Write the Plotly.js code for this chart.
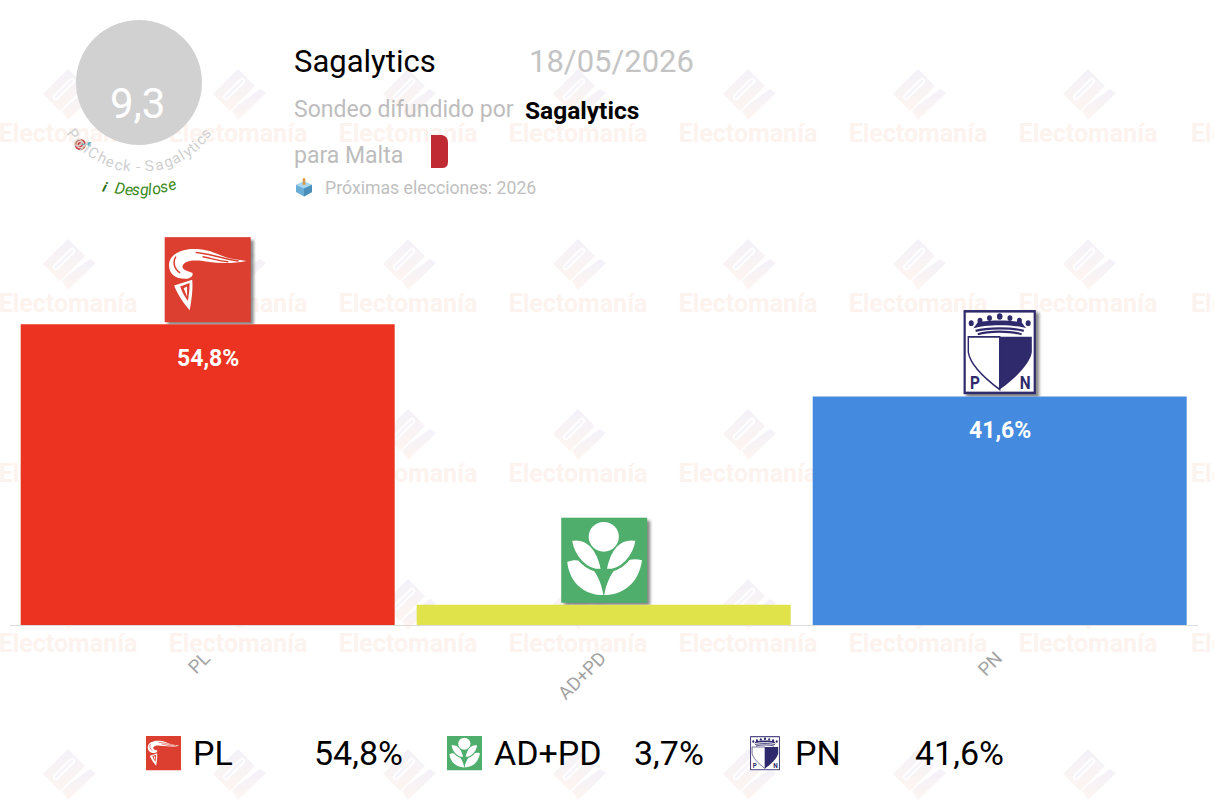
<!DOCTYPE html>
<html>
<head>
<meta charset="utf-8">
<script src="https://cdn.plot.ly/plotly-3.0.1.min.js"></script>
<style>html,body{margin:0;padding:0;background:#fff}#chart{width:1214px;height:804px}</style>
</head>
<body>
<div id="chart"></div>
<script>
// ---- chart data
const categories = ['PL', 'AD+PD', 'PN'];
const values = [54.8, 3.7, 41.6];
const barColors = ['#ec3322', '#e0e34a', '#448ade'];
const pollster = 'Sagalytics';
const pollDate = '18/05/2026';
const score = '9,3';
const arcLabel = 'PollCheck - Sagalytics';
const detailLabel = 'Desglose';
const nextElection = 'Próximas elecciones: 2026';
const watermarkWord = 'Electomanía';
const watermarkEdge = 'Electomanía';
const watermarkTextX = [68, 238, 408, 578, 748, 918, 1088];
const watermarkTextY = [136, 306, 476, 646];
const watermarkEdgeY = [133, 303, 473, 643];
const watermarkIconX = [68, 238, 408, 578, 748, 918, 1088];
const watermarkIconY = [95, 265, 435, 605, 775];
const legendNameX = [192, 493, 794];
const legendValueX = [313, 633, 914];
const legendIconX = [146, 447, 750];

const fmt = v => v.toFixed(1).replace('.', ',') + '%';
const uri = s => 'data:image/svg+xml;charset=utf-8,' + encodeURIComponent(s);

// ---- party logos, each drawn in a 100x100 box
const logoInner = {
  'PL': `<rect width="100" height="100" fill="#dc3e30"/>
    <path fill="#fff" d="M5,33 C5,20 20,14 33,14 C50,13 60,20 72,24 C80,26 88,27 95,28 C80,31 65,31 50,29 C35,26 24,27 21,33 C19,38 26,40 32,42 C34,45 30,49 24,49 C12,49 5,43 5,33Z"/>
    <path fill="#fff" d="M11,57 L32,50 C33,62 31,75 29,86 C22,78 15,68 11,57Z"/>
    <path fill="none" stroke="#dc3e30" stroke-width="1.8" d="M36,18 C52,19 64,25 86,28 M44,23 C55,25 62,28 74,29 M13,23 C9,29 11,38 18,42"/>
    <path fill="#dc3e30" d="M18,58 L29,54 C29,62 28,68 27,75 C23,70 20,64 18,58Z"/>
    <path fill="#fff" d="M22,60 L26,58 L26,70 Z"/>`,
  'AD+PD': `<rect width="100" height="100" fill="#4fae6c"/>
    <path fill="#fff" d="M7,52 C26,44 44,60 49,91 C28,91 10,78 7,52Z"/>
    <path fill="#fff" d="M94,50 C74,44 55,60 50,91 C71,91 90,78 94,50Z"/>
    <path fill="#fff" stroke="#4fae6c" stroke-width="3" d="M11,26 C30,22 43,36 48,63 C28,62 14,46 11,26Z"/>
    <path fill="#fff" stroke="#4fae6c" stroke-width="3" d="M88,26 C68,22 56,36 51,63 C71,62 85,46 88,26Z"/>
    <path fill="#4fae6c" d="M40,40 L59,40 L49.5,62Z"/>
    <path fill="#4fae6c" d="M38,60 L61,60 L50,84Z"/>
    <circle cx="49.5" cy="22.5" r="17.5" fill="#fff"/>`,
  'PN': `<rect x="2" y="2" width="96" height="96" fill="#fff" stroke="#2f2a6b" stroke-width="3"/>
    <path fill="#2f2a6b" d="M50,32 L94,32 L94,50 C92,62 76,78 50,94Z"/>
    <path fill="#fff" stroke="#2f2a6b" stroke-width="2" d="M50,32 L7,32 L7,50 C9,62 25,78 50,94Z"/>
    <path fill="none" stroke="#2f2a6b" stroke-width="2.6" d="M20,29 C35,25 65,25 80,29 M17,25 C32,21 68,21 83,25"/>
    <path fill="#2f2a6b" d="M14,22 C30,17 70,17 86,22 L80,15 C65,12 35,12 20,15Z"/>
    <g fill="#2f2a6b"><circle cx="11" cy="16" r="3.4"/><circle cx="23" cy="13" r="3.4"/><circle cx="36" cy="10" r="3.4"/><circle cx="50" cy="8" r="3.8"/><circle cx="64" cy="10" r="3.4"/><circle cx="77" cy="13" r="3.4"/><circle cx="89" cy="16" r="3.4"/></g>
    <text x="16" y="93" font-family="Roboto" font-weight="700" font-size="21" text-anchor="middle" fill="#2f2a6b">P</text>
    <text x="85" y="93" font-family="Roboto" font-weight="700" font-size="21" text-anchor="middle" fill="#2f2a6b">N</text>`
};
const barLogoBox = {
  'PL': [7, 13, 0.86, 0.85],
  'AD+PD': [7.5, 13, 0.86, 0.85],
  'PN': [13.5, 13, 0.73, 0.85]
};
function barLogo(name) {
  const [tx, ty, sx, sy] = barLogoBox[name];
  return uri(`<svg xmlns="http://www.w3.org/2000/svg" width="200" height="200" viewBox="0 0 100 100">
    <defs><filter id="s" x="-20%" y="-20%" width="140%" height="140%"><feGaussianBlur stdDeviation="1.8"/></filter></defs>
    <rect x="${tx + 3}" y="${ty + 3}" width="${100 * sx}" height="${100 * sy}" fill="#555" opacity=".7" filter="url(#s)"/>
    <g transform="translate(${tx},${ty}) scale(${sx},${sy})">${logoInner[name]}</g></svg>`);
}
function plainLogo(name) {
  return uri(`<svg xmlns="http://www.w3.org/2000/svg" width="200" height="200" viewBox="0 0 100 100" preserveAspectRatio="none">${logoInner[name]}</svg>`);
}

const watermarkIcon = uri(`<svg xmlns="http://www.w3.org/2000/svg" width="120" height="120" viewBox="-30 -30 60 60">
  <defs><linearGradient id="g" x1="0" y1="0" x2="0" y2="1"><stop offset="0" stop-color="#f3f1f9"/><stop offset="1" stop-color="#fdf5f0"/></linearGradient></defs>
  <path fill="url(#g)" d="M0,-26 L17,-9 L-8,16 L-25,-1Z"/>
  <path fill="url(#g)" d="M-6,16 L0,10 L22,-6 L28,-2 L0,25Z"/>
  <path stroke="#fff" stroke-width="6.5" stroke-linecap="round" d="M-12,2 L4,-14"/>
  <path stroke="#f7f4fa" stroke-width="3" stroke-linecap="round" d="M-12,2 L4,-14"/>
</svg>`);

const targetEmoji = uri(`<svg xmlns="http://www.w3.org/2000/svg" width="80" height="60" viewBox="0 0 32 24">
  <circle cx="10" cy="12" r="9" fill="#c4423f"/><circle cx="10" cy="12" r="6.3" fill="#f0c6c2"/><circle cx="10" cy="12" r="4" fill="#c4423f"/><circle cx="10" cy="12" r="1.8" fill="#f0c6c2"/>
  <path d="M11,12 L24,11" stroke="#4fa9b5" stroke-width="1.6"/><path d="M22,8 L28,8 L26,11 L28,15 L22,14Z" fill="#57b6c4"/></svg>`);
const ballotEmoji = uri(`<svg xmlns="http://www.w3.org/2000/svg" width="80" height="80" viewBox="0 0 20 20">
  <path d="M10,0.5 C12,2.5 12,6 10,7 C8,6 8,2.5 10,0.5Z" fill="#e0963a"/>
  <path d="M10,4.5 L18,8 L18,15 L10,19.5 L2,15 L2,8Z" fill="#68aed6"/><path d="M10,4.5 L18,8 L10,11.5 L2,8Z" fill="#a9d6ec"/><path d="M10,11.5 L18,8 L18,15 L10,19.5Z" fill="#4a8fba"/><path d="M10,4.5 C12,5.5 12,7.5 10,8 C8,7.5 8,5.5 10,4.5Z" fill="#e0963a"/></svg>`);

// ---- helpers for pixel-placed page furniture (drawn on the page-sized axes x / y)
function label(text, x, y, size, color, opts) {
  return Object.assign({
    text, x, y, xref: 'x', yref: 'y', xanchor: 'left', yanchor: 'middle', showarrow: false,
    font: { family: 'Roboto', size, color }, borderpad: 0
  }, opts || {});
}
const measure = document.createElement('canvas').getContext('2d');
function arcText(text, cx, cy, r, startDeg, endDeg, font, size, color) {
  measure.font = (font.style || '') + ' ' + size + 'px Roboto';
  const total = measure.measureText(text).width;
  const out = [];
  let run = 0;
  [...text].forEach(ch => {
    const w = measure.measureText(ch).width;
    const mid = (run + w / 2) / total;
    const deg = startDeg + (endDeg - startDeg) * mid;
    const rad = deg * Math.PI / 180;
    if (ch !== ' ') out.push({
      text: ch, x: cx + r * Math.cos(rad), y: cy + r * Math.sin(rad), xref: 'x', yref: 'y',
      xanchor: 'center', yanchor: 'middle', showarrow: false, borderpad: 0, textangle: deg - 90,
      font: { family: 'Roboto', size, color, style: font.style === 'italic' ? 'italic' : 'normal' }
    });
    run += w;
  });
  return out;
}

// ---- traces
const wmX = [], wmY = [], wmT = [];
watermarkTextY.forEach(y => watermarkTextX.forEach(x => { wmX.push(x); wmY.push(y); wmT.push(watermarkWord); }));

const traces = [
  {
    type: 'scatter', mode: 'text', x: wmX, y: wmY, text: wmT, xaxis: 'x', yaxis: 'y',
    textposition: 'middle center', cliponaxis: false, hoverinfo: 'skip', showlegend: false,
    textfont: { family: 'Roboto', size: 25, weight: 700, color: '#fcf3ef' }
  },
  {
    type: 'bar', x: categories, y: values, xaxis: 'x2', yaxis: 'y2',
    marker: { color: barColors, line: { width: 0 } }, hoverinfo: 'skip', showlegend: false
  }
];

// ---- images
const images = [];
watermarkIconY.forEach(y => watermarkIconX.forEach(x => images.push({
  source: watermarkIcon, xref: 'x', yref: 'y', x, y, sizex: 60, sizey: 60,
  xanchor: 'center', yanchor: 'middle', layer: 'below', sizing: 'stretch'
})));
const pxPerUnit = 5.49, pxPerCat = 396;
categories.forEach((c, i) => {
  images.push({
    source: barLogo(c), xref: 'x2', yref: 'y2', x: i, y: values[i],
    sizex: 100 / pxPerCat, sizey: 100 / pxPerUnit, xanchor: 'center', yanchor: 'bottom',
    layer: 'above', sizing: 'stretch'
  });
  const narrow = c === 'PN';
  images.push({
    source: plainLogo(c), xref: 'x', yref: 'y', x: legendIconX[i], y: 736,
    sizex: narrow ? 30 : 35, sizey: 34.5, xanchor: 'left', yanchor: 'top', layer: 'above', sizing: 'stretch'
  });
});
images.push({ source: targetEmoji, xref: 'x', yref: 'y', x: 74, y: 137, sizex: 20, sizey: 15, xanchor: 'left', yanchor: 'top', layer: 'above', sizing: 'stretch' });
images.push({ source: ballotEmoji, xref: 'x', yref: 'y', x: 294, y: 177, sizex: 20, sizey: 20, xanchor: 'left', yanchor: 'top', layer: 'above', sizing: 'stretch' });

// ---- texts
const annotations = [
  label(score, 137.5, 103, 42, '#ffffff', { xanchor: 'center' }),
  label(pollster, 292.5, 61, 31, '#000000'),
  label(pollDate, 528, 61, 31, '#c4c4c4'),
  label('Sondeo difundido por', 292.5, 109, 23, '#bdbdbd'),
  label('<b>' + pollster + '</b>', 523.5, 110, 24.5, '#000000'),
  label('para Malta', 292.5, 155, 23, '#bdbdbd'),
  label(nextElection, 324, 188, 17.7, '#c0c0c0'),
  ...arcText(arcLabel, 139, 83, 84, 146, 34, {}, 15, '#cfcfcf'),
  ...arcText(detailLabel, 139, 83, 107, 103, 70, { style: 'italic' }, 16, '#3c8a20'),
  label('<b><i>i</i></b>', 105, 187, 14, '#2a6e12', { xanchor: 'center', textangle: 16 })
];
// the partial word cut by the right edge of the page
watermarkEdgeY.forEach(y => annotations.push(label(watermarkEdge, 1190, y, 25, '#fcf3ef', { font: { family: 'Roboto', size: 25, color: '#fcf3ef', weight: 700 } })));
categories.forEach((c, i) => {
  if (values[i] > 10) annotations.push({
    text: '<b>' + fmt(values[i]) + '</b>', x: c, y: values[i], xref: 'x2', yref: 'y2',
    yshift: -34, xanchor: 'center', yanchor: 'middle', showarrow: false,
    font: { family: 'Roboto', size: 23, color: '#ffffff' }
  });
  annotations.push(label(c, legendNameX[i], 753, 34, '#000000'));
  annotations.push(label(fmt(values[i]), legendValueX[i], 753, 34, '#000000'));
});

const layout = {
  width: 1214, height: 804, autosize: false,
  margin: { l: 0, r: 0, t: 0, b: 0, pad: 0 },
  paper_bgcolor: '#ffffff', plot_bgcolor: 'rgba(0,0,0,0)',
  showlegend: false, hovermode: false, bargap: 22 / 396,
  xaxis: { domain: [0, 1], range: [0, 1214], visible: false, fixedrange: true },
  yaxis: { domain: [0, 1], range: [804, 0], visible: false, fixedrange: true },
  xaxis2: {
    anchor: 'y2', domain: [9.7 / 1214, 1197.7 / 1214], type: 'category', categoryorder: 'array',
    categoryarray: categories, range: [-0.5, 2.5], showline: true, linecolor: '#dcdcdc', linewidth: 1,
    showgrid: false, zeroline: false, ticks: 'outside', ticklen: 14, tickcolor: 'rgba(0,0,0,0)',
    ticklabelshift: -3,
    tickangle: -45, tickfont: { family: 'Roboto', size: 18.5, color: '#a3a3a3' }, fixedrange: true
  },
  yaxis2: {
    anchor: 'x2', domain: [(804 - 625) / 804, (804 - 76) / 804], range: [0, 100],
    visible: false, showgrid: false, zeroline: false, fixedrange: true
  },
  shapes: [
    { type: 'circle', xref: 'x', yref: 'y', x0: 76, x1: 202, y0: 20, y1: 145, fillcolor: '#d2d1d2', line: { width: 0 } },
    { type: 'path', xref: 'x', yref: 'y', fillcolor: '#c02a33', line: { width: 0 },
      path: 'M431,135 L442,135 Q448,136 448,143 L448,162 Q448,168 442,168 L431,168 Z' }
  ],
  images, annotations
};
Plotly.newPlot('chart', traces, layout, { staticPlot: true, displayModeBar: false });
</script>
</body>
</html>
